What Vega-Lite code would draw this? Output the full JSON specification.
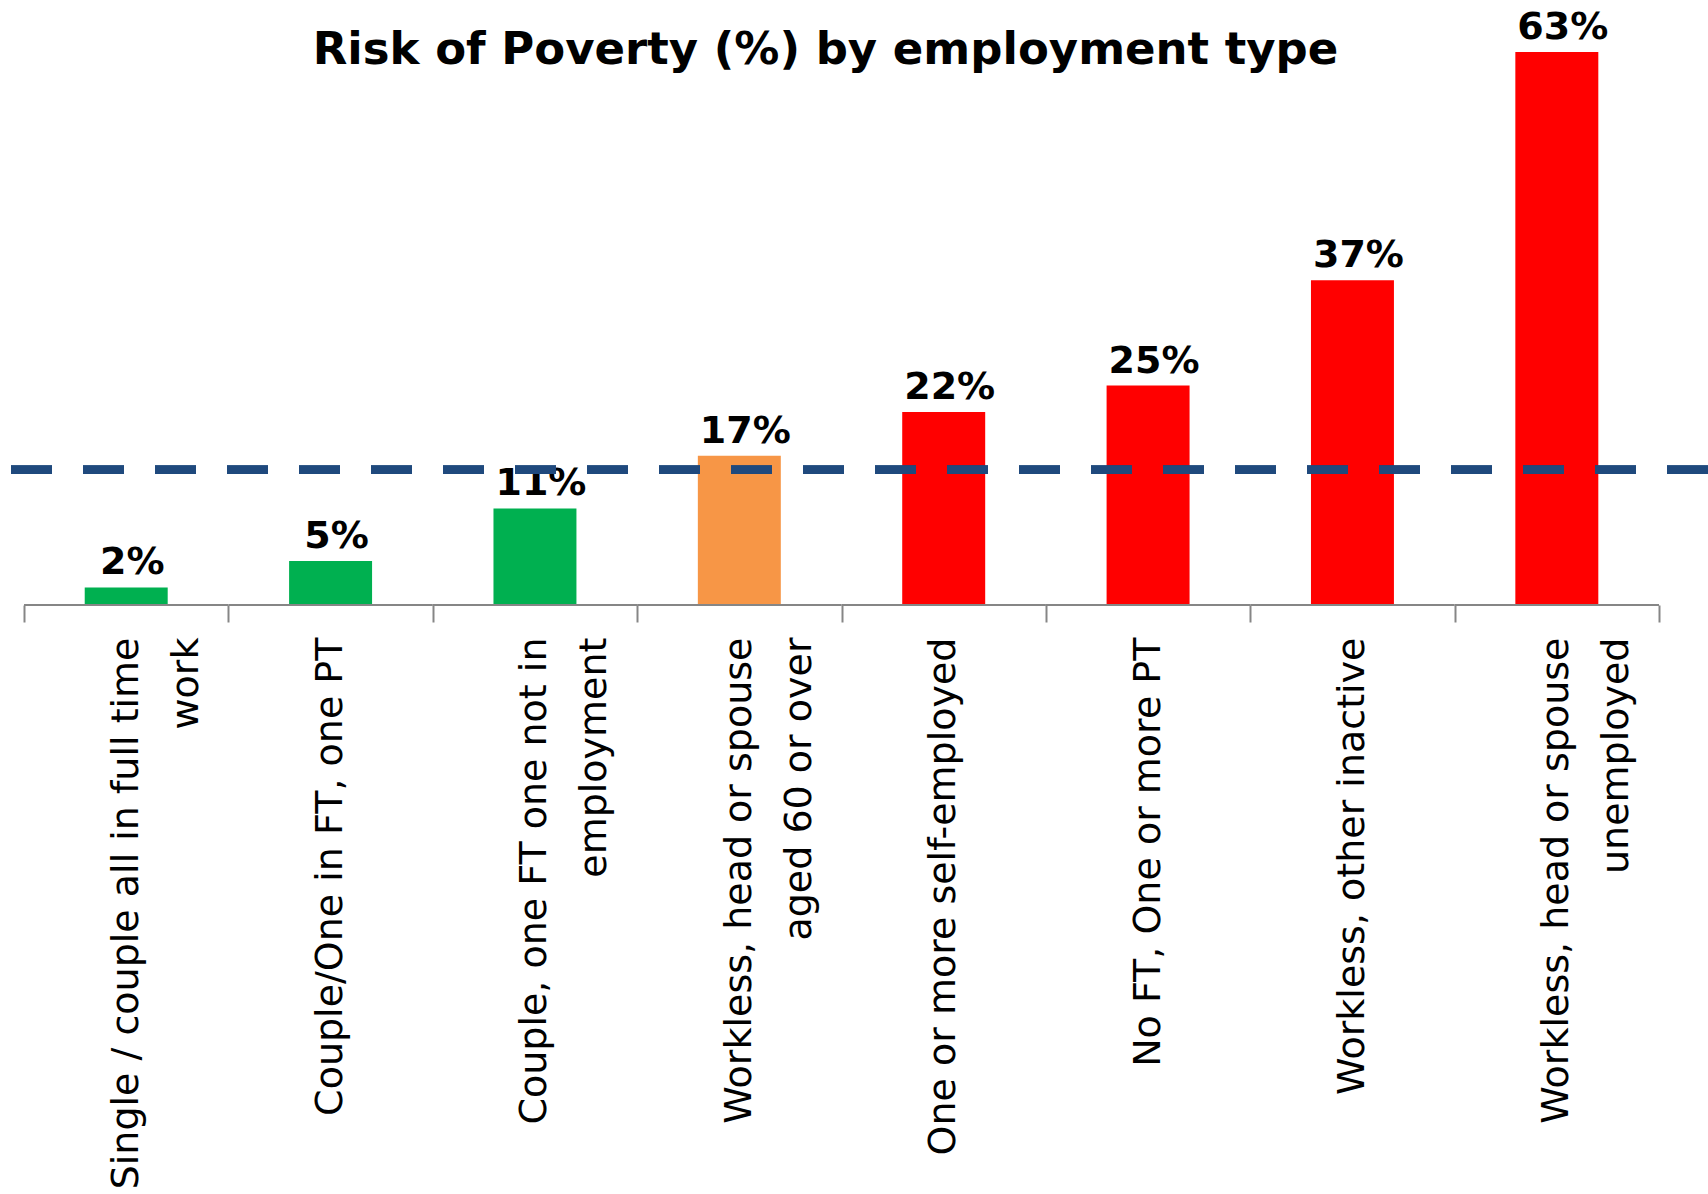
{
  "$schema": "https://vega.github.io/schema/vega-lite/v6.json",
  "width": 1697,
  "height": 553,
  "autosize": "none",
  "padding": {"left": 11, "top": 52, "right": 0, "bottom": 589},
  "background": "white",
  "config": {"view": {"stroke": null}},
  "title": {
    "text": "Risk of Poverty (%) by employment type",
    "font": "DejaVu Sans",
    "fontWeight": "bold",
    "fontSize": 45,
    "color": "black",
    "anchor": "middle",
    "frame": "group",
    "dx": -34,
    "dy": 64,
    "offset": 0
  },
  "data": {
    "values": [
      {"cat": "Single / couple all in full time|work", "value": 0.02, "level": "low"},
      {"cat": "Couple/One in FT, one PT", "value": 0.05, "level": "low"},
      {"cat": "Couple, one FT one not in|employment", "value": 0.11, "level": "low"},
      {"cat": "Workless, head or spouse|aged 60 or over", "value": 0.17, "level": "mid"},
      {"cat": "One or more self-employed", "value": 0.22, "level": "high"},
      {"cat": "No FT, One or more PT", "value": 0.25, "level": "high"},
      {"cat": "Workless, other inactive", "value": 0.37, "level": "high"},
      {"cat": "Workless, head or spouse|unemployed", "value": 0.63, "level": "high"}
    ]
  },
  "encoding": {
    "x": {
      "field": "cat",
      "type": "nominal",
      "sort": null,
      "scale": {"paddingInner": 0, "paddingOuter": 0.1517, "align": 0.21},
      "axis": {
        "title": null,
        "domain": false,
        "labelAngle": -90,
        "labelAlign": "right",
        "labelBaseline": "middle",
        "labelFont": "DejaVu Sans",
        "labelFontSize": 38,
        "labelLineHeight": 60,
        "labelColor": "black",
        "labelLimit": 1000,
        "labelOverlap": false,
        "labelPadding": 15,
        "labelExpr": "split(datum.label, '|')",
        "tickBand": "extent",
        "tickSize": 17,
        "tickColor": "#868686",
        "tickWidth": 2
      }
    }
  },
  "layer": [
    {
      "mark": {"type": "bar", "width": {"band": 0.406}},
      "encoding": {
        "y": {"field": "value", "type": "quantitative", "scale": {"domain": [0, 0.63], "nice": false, "zero": true}, "axis": null},
        "color": {"field": "level", "type": "nominal", "scale": {"domain": ["low", "mid", "high"], "range": ["#00B050", "#F79646", "#FF0000"]}, "legend": null}
      }
    },
    {
      "mark": {"type": "text", "font": "DejaVu Sans", "fontWeight": "bold", "fontSize": 38, "color": "black", "baseline": "bottom", "dy": -5, "dx": 6},
      "encoding": {
        "y": {"field": "value", "type": "quantitative"},
        "text": {"field": "value", "type": "quantitative", "format": ".0%"}
      }
    },
    {
      "mark": {"type": "rule", "color": "#868686", "strokeWidth": 2},
      "encoding": {
        "x": {"field": "cat", "type": "nominal", "sort": null, "bandPosition": 0},
        "x2": {"field": "cat", "bandPosition": 1},
        "y": {"datum": 0, "type": "quantitative"}
      }
    },
    {
      "mark": {"type": "rule", "color": "#1F497D", "strokeWidth": 8, "strokeDash": [41, 31], "strokeCap": "butt"},
      "encoding": {
        "x": null,
        "y": {"datum": 0.154, "type": "quantitative"}
      }
    }
  ]
}
